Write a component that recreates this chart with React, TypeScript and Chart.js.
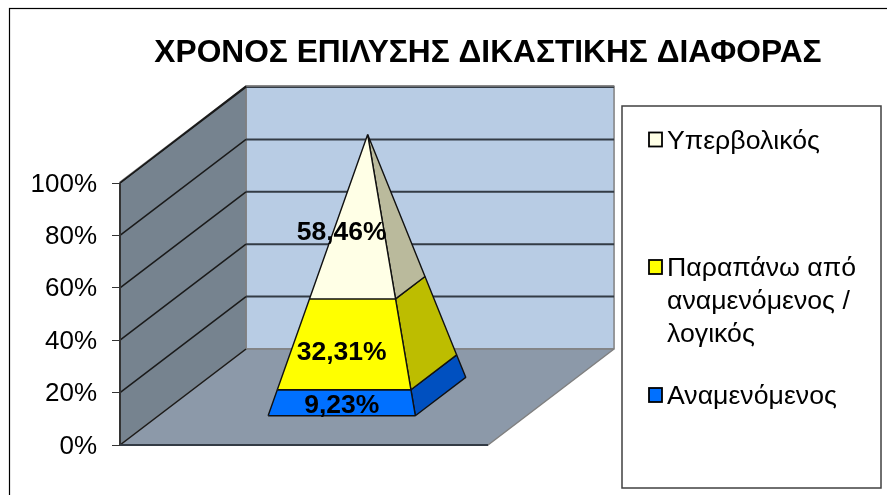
import React, { useEffect, useRef } from "react";
import { Chart, registerables } from "chart.js";

Chart.register(...registerables);

const titleText = "ΧΡΟΝΟΣ ΕΠΙΛΥΣΗΣ ΔΙΚΑΣΤΙΚΗΣ ΔΙΑΦΟΡΑΣ";
const seriesValues = [9.23, 32.31, 58.46];
const valueLabels = ["9,23%", "32,31%", "58,46%"];
const labelAnchors = [4, 24.2, 70];
const frontColors = ["#0070FF", "#FFFF00", "#FFFFE6"];
const sideColors = ["#0050C0", "#BDBD00", "#BABA9C"];
const gridValues = [0, 20, 40, 60, 80, 100];
const legendLines = [["Υπερβολικός"], ["Παραπάνω από", "αναμενόμενος /", "λογικός"], ["Αναμενόμενος"]];
const legendColors = ["#FFFFE6", "#FFFF00", "#0070FF"];

const DEPTH_X = 34.24;
const DEPTH_Y = 36.64;
const X_FRONT = 100;
const X_MAX = 208.4;
const Y_MAX = 137.02;
const BASE_LEFT = 29.8;
const BASE_RIGHT = 69.8;
const BASE_NEAR = 0.305;
const BASE_FAR = 0.705;
const APEX = { x: 50, d: 0.505 };

type P = { x: number; y: number };
const project = (x: number, d: number, v: number): P => ({ x: x + d * DEPTH_X, y: v + d * DEPTH_Y });
const corner = (x: number, d: number, v: number): P => {
  const t = v / 100;
  return project(x + (APEX.x - x) * t, d + (APEX.d - d) * t, v);
};

function poly(points: P[], color: string, line: string, width: number) {
  return {
    type: "scatter",
    data: [...points, points[0]],
    showLine: true,
    fill: "shape",
    backgroundColor: color,
    borderColor: line,
    borderWidth: width,
    borderJoinStyle: "bevel",
    pointRadius: 0,
    tension: 0,
    clip: false,
  };
}
function seg(a: P, b: P, color: string, width: number) {
  return {
    type: "scatter",
    data: [a, b],
    showLine: true,
    fill: false,
    borderColor: color,
    borderWidth: width,
    pointRadius: 0,
    tension: 0,
    clip: false,
  };
}

function buildDatasets() {
  const out: any[] = [];
  const wallEdge = "#808080";
  const top = Y_MAX - DEPTH_Y;
  out.push(poly([project(0, 1, 0), project(X_FRONT, 1, 0), project(X_FRONT, 1, top), project(0, 1, top)], "#B8CCE4", wallEdge, 1.5));
  out.push(poly([project(0, 0, 0), project(0, 1, 0), project(0, 1, top), project(0, 0, top)], "#76838F", wallEdge, 1.5));
  out.push(poly([project(0, 0, 0), project(X_FRONT, 0, 0), project(X_FRONT, 1, 0), project(0, 1, 0)], "#8C99A9", wallEdge, 1.5));
  gridValues.forEach((v) => {
    if (v > 0) out.push(seg(project(0, 1, v), project(X_FRONT, 1, v), "#333B45", 2));
    out.push(seg(project(0, 0, v), project(0, 1, v), "#1A1A1A", 1.5));
  });
  out.push(seg(project(0, 1, top), project(X_FRONT, 1, top), wallEdge, 1.5));
  out.push(seg(project(0, 0, 100), project(0, 1, top), "#1A1A1A", 1.5));
  out.push(seg(project(0, 0, 0), project(0, 0, 100), "#333333", 2));
  out.push(seg(project(0, 0, 0), project(X_FRONT, 0, 0), "#333B45", 2));

  let from = 0;
  seriesValues.forEach((value, i) => {
    const to = from + value;
    out.push(
      poly(
        [corner(BASE_RIGHT, BASE_NEAR, from), corner(BASE_RIGHT, BASE_FAR, from), corner(BASE_RIGHT, BASE_FAR, to), corner(BASE_RIGHT, BASE_NEAR, to)],
        sideColors[i], "#111111", 1.4
      )
    );
    out.push(
      poly(
        [corner(BASE_LEFT, BASE_NEAR, from), corner(BASE_RIGHT, BASE_NEAR, from), corner(BASE_RIGHT, BASE_NEAR, to), corner(BASE_LEFT, BASE_NEAR, to)],
        frontColors[i], "#111111", 1.4
      )
    );
    from = to;
  });
  const n = out.length;
  out.forEach((d, i) => (d.order = n - i));
  return out;
}

const decorations = {
  id: "decorations",
  beforeDraw(chart: any) {
    const { ctx } = chart;
    ctx.save();
    ctx.fillStyle = "#FFFFFF";
    ctx.fillRect(0, 0, 887, 495);
    ctx.strokeStyle = "#000000";
    ctx.lineWidth = 1.2;
    ctx.strokeRect(9.5, 8.5, 900, 500);
    ctx.restore();
  },
  afterDatasetsDraw(chart: any) {
    const { ctx, scales } = chart;
    ctx.save();
    ctx.font = "bold 26.5px 'Liberation Sans'";
    ctx.fillStyle = "#000000";
    ctx.textAlign = "center";
    ctx.textBaseline = "middle";
    seriesValues.forEach((_, i) => {
      const p = project((BASE_LEFT + BASE_RIGHT) / 2, BASE_NEAR, labelAnchors[i]);
      ctx.fillText(valueLabels[i], scales.x.getPixelForValue(p.x), scales.y.getPixelForValue(p.y));
    });
    ctx.strokeStyle = "#404040";
    ctx.lineWidth = 1.5;
    ctx.fillStyle = "#FFFFFF";
    ctx.fillRect(622, 106, 259, 382);
    ctx.strokeRect(622, 106, 259, 382);
    const itemY = [139.5, 267, 395];
    ctx.textAlign = "left";
    ctx.font = "26.7px 'Liberation Sans'";
    legendLines.forEach((lines, i) => {
      ctx.fillStyle = legendColors[i];
      ctx.fillRect(649, itemY[i] - 7, 13, 14);
      ctx.strokeStyle = "#000000";
      ctx.lineWidth = 1.8;
      ctx.strokeRect(649, itemY[i] - 7, 13, 14);
      ctx.fillStyle = "#000000";
      lines.forEach((t, j) => ctx.fillText(t, 667, itemY[i] + 2 + j * 33));
    });
    ctx.restore();
  },
};

export default function App() {
  const ref = useRef<HTMLCanvasElement>(null);
  useEffect(() => {
    const chart = new Chart(ref.current as any, {
      type: "scatter",
      data: { datasets: buildDatasets() } as any,
      plugins: [decorations],
      options: {
        animation: false,
        responsive: false,
        events: [],
        layout: { padding: { left: 0, right: -89, top: 0, bottom: 50 } },
        plugins: {
          legend: { display: false },
          tooltip: { enabled: false },
          title: {
            display: true,
            text: titleText,
            color: "#000000",
            font: { family: "'Liberation Sans'", size: 31.7, weight: "bold", lineHeight: 1.2 },
            padding: { top: 34.5, bottom: 13.5 },
          },
        },
        scales: {
          x: { type: "linear", display: false, min: 0, max: X_MAX },
          y: {
            type: "linear",
            min: 0,
            max: Y_MAX,
            afterFit: (s: any) => { s.width = 120; },
            afterBuildTicks: (s: any) => { s.ticks = s.ticks.filter((t: any) => t.value <= 100); },
            border: { display: false },
            grid: { drawOnChartArea: false, drawTicks: true, tickLength: 8, color: "#333333", lineWidth: 1 },
            ticks: {
              stepSize: 20,
              includeBounds: false,
              padding: 15,
              labelOffset: 1.5,
              color: "#000000",
              font: { family: "'Liberation Sans'", size: 26 },
              callback: (v: any) => `${v}%`,
            },
          },
        },
      } as any,
    });
    return () => chart.destroy();
  }, []);
  return (
    <div style={{ position: "fixed", left: 0, top: 0, width: 887, height: 495, background: "#fff" }}>
      <canvas ref={ref} width={887} height={495} style={{ display: "block" }} />
    </div>
  );
}
